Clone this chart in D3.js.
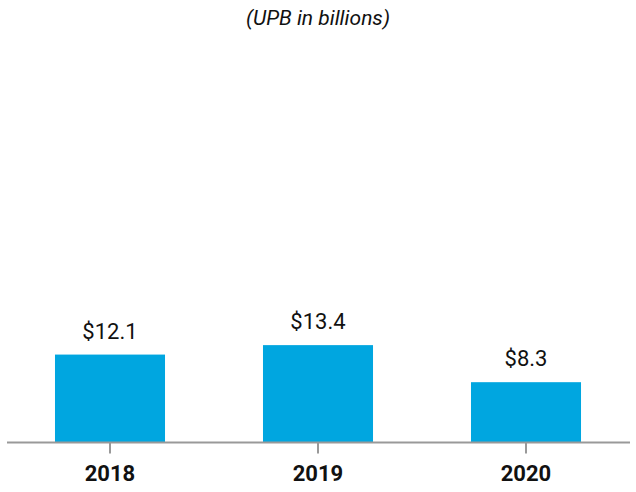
<!DOCTYPE html>
<html>
<head>
<meta charset="utf-8">
<script src="https://cdn.jsdelivr.net/npm/d3@7"></script>
<style>
  html, body { margin: 0; padding: 0; background: #fff; }
  svg { display: block; }
  text { font-family: "Liberation Sans Narrow", "Arial Narrow", "Roboto", sans-serif; }
</style>
</head>
<body>
<svg id="chart" width="636" height="492"></svg>
<script>
const categories = ["2018", "2019", "2020"];
const values = [12.1, 13.4, 8.3];
const valueLabels = ["$12.1", "$13.4", "$8.3"];
const title = "(UPB in billions)";

const svg = d3.select("#chart");
const W = 636, H = 492;
const baseY = 442.5;

const x = d3.scaleBand().domain(categories).range([6, 630]).paddingInner(0.471).paddingOuter(0.2355);
const y = d3.scaleLinear().domain([0, 60]).range([baseY, baseY - 436]);

svg.append("text")
  .attr("x", 318).attr("y", 25)
  .attr("text-anchor", "middle")
  .attr("font-size", 21)
  .attr("font-style", "italic")
  .attr("fill", "#111")
  .text(title);

svg.selectAll("rect.bar").data(values).join("rect")
  .attr("class", "bar")
  .attr("x", (d, i) => x(categories[i]))
  .attr("width", x.bandwidth())
  .attr("y", d => y(d))
  .attr("height", d => baseY - y(d))
  .attr("fill", "#00A6E0");

svg.selectAll("text.val").data(values).join("text")
  .attr("class", "val")
  .attr("x", (d, i) => x(categories[i]) + x.bandwidth() / 2)
  .attr("y", d => y(d) - 16)
  .attr("text-anchor", "middle")
  .attr("font-size", 22)
  .attr("fill", "#111")
  .text((d, i) => valueLabels[i]);

const axis = d3.axisBottom(x).tickSize(11).tickPadding(12).tickSizeOuter(0);
const gx = svg.append("g").attr("transform", `translate(0,${baseY})`).call(axis);
gx.select(".domain").attr("stroke", "#999").attr("stroke-width", 2).attr("d", "M7,0H630");
gx.selectAll(".tick line").attr("stroke", "#999").attr("stroke-width", 2);
gx.selectAll(".tick text")
  .attr("font-size", 22)
  .attr("font-weight", "bold")
  .attr("fill", "#111")
  .style("font-family", '"Liberation Sans Narrow", "Arial Narrow", "Roboto", sans-serif');
</script>
</body>
</html>
